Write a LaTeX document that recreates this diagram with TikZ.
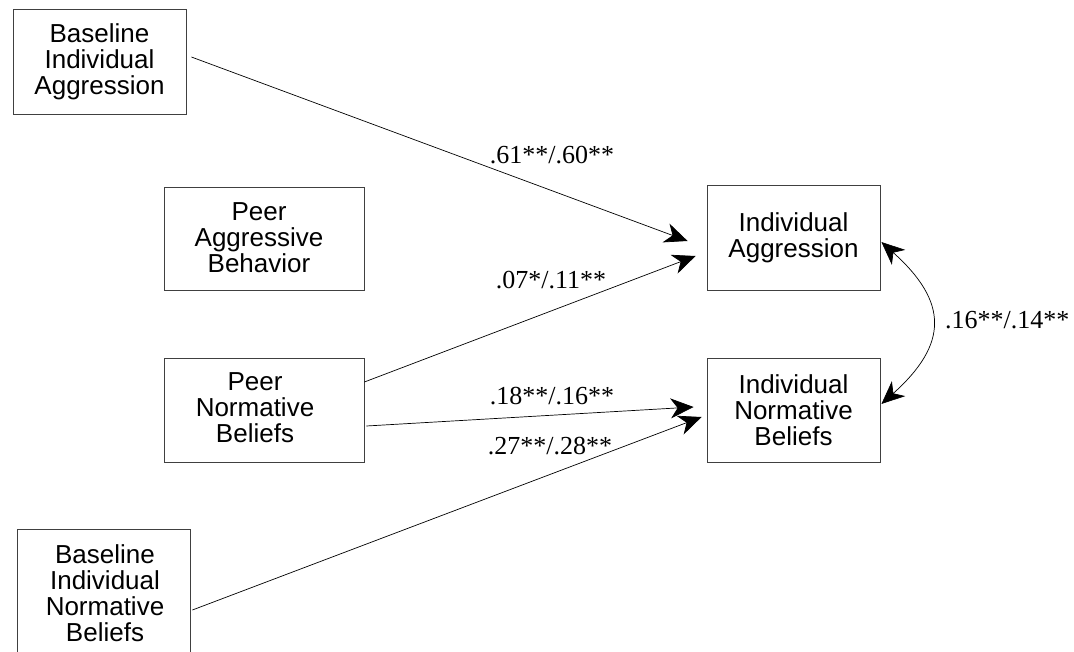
\documentclass[tikz,border=0pt]{standalone}
\usepackage{fontspec}
\setmainfont{Liberation Sans}
\newfontfamily\lblfont{Liberation Serif}
\usetikzlibrary{arrows.meta,calc}
\begin{document}
\begin{tikzpicture}[x=1pt,y=-1pt,
  box/.style={draw=black!75, line width=0.8pt, rectangle, inner sep=0pt, minimum width=173pt},
  boxtext/.style={align=center, font=\fontsize{26}{26}\selectfont, inner sep=0pt},
  causal/.style={draw, line width=0.7pt, -{Stealth[length=23pt,width=20pt,inset=7pt]}},
  corr/.style={draw, line width=0.7pt, {Stealth[length=23pt,width=20pt,inset=7pt]}-{Stealth[length=23pt,width=20pt,inset=7pt]}},
  coef/.style={font=\lblfont\fontsize{26}{26}\selectfont, anchor=base, inner sep=0pt}]
\useasboundingbox (0,0) rectangle (1074,652);

% boxes
\node[box, boxtext, minimum height=105pt] (bia) at (99.5,61.5) {Baseline\\Individual\\Aggression};
\node[box, minimum width=200pt, minimum height=103pt] (pab) at (264,238.5) {};
\node[boxtext] (pabt) at (259,238) {Peer\\Aggressive\\Behavior};
\node[box, minimum width=200pt, minimum height=104pt] (pnb) at (264,410) {};
\node[boxtext] (pnbt) at (255,408) {Peer\\Normative\\Beliefs};
\node[box, minimum height=161pt] (bnb) at (103.5,609.5) {};
\node[boxtext, anchor=north] (bnbt) at (105,544) {Baseline\\Individual\\Normative\\Beliefs};
\node[box, boxtext, minimum height=105pt] (ia) at (793.5,237.5) {Individual\\Aggression};
\node[box, boxtext, minimum height=104pt] (inb) at (793.5,410) {Individual\\Normative\\Beliefs};

% paths
\draw[causal] ($(bia.east)+(5,-4.5)$) -- ($(ia.west)+(-19,3.5)$);
\draw[causal] ($(pnb.east)+(0,-28)$) -- ($(ia.west)+(-11,18.5)$);
\draw[causal] ($(pnb.east)+(2,16)$) -- ($(inb.west)+(-13,-3)$);
\draw[causal] ($(bnb.east)+(2,0.5)$) -- ($(inb.west)+(-5,7)$);
\draw[corr] ($(ia.east)+(1,4.5)$) .. controls +(67,60) and +(67,-60) .. ($(inb.east)+(1,-6)$);

% coefficients
\node[coef] (c1) at (552,164) {.61**/.60**};
\node[coef] (c2) at (551,289) {.07*/.11**};
\node[coef] (c3) at (552,404) {.18**/.16**};
\node[coef] (c4) at (550,454) {.27**/.28**};
\node[coef, anchor=base west] (c5) at (945,329) {.16**/.14**};
\end{tikzpicture}
\end{document}
